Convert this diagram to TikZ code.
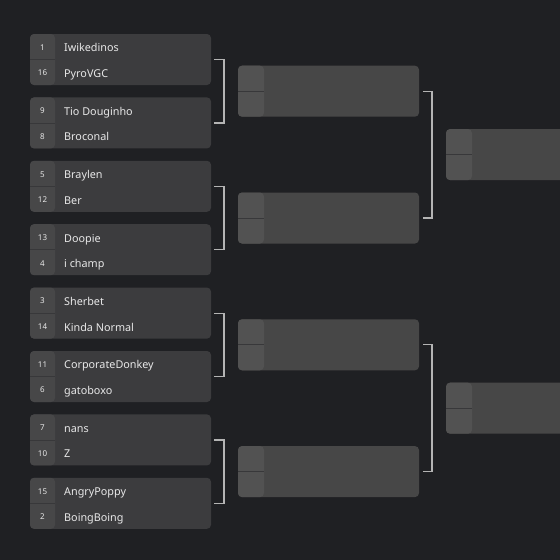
\documentclass[tikz,border=0pt]{standalone}
\usepackage{fontspec}
\setmainfont{Noto Sans}
\definecolor{bg}{HTML}{1F2023}
\definecolor{boxa}{HTML}{3C3C3E}
\definecolor{seeda}{HTML}{474748}
\definecolor{boxb}{HTML}{474747}
\definecolor{seedb}{HTML}{525252}
\definecolor{divline}{HTML}{38383A}
\definecolor{brk}{HTML}{B4B4B4}
\definecolor{txt}{HTML}{E8E8E8}
\tikzset{
  match/.style={rectangle, rounded corners=4pt, inner sep=0pt, outer sep=0pt,
    minimum height=51pt, minimum width=181pt, draw=none},
  r1/.style={match, fill=boxa, path picture={
      \fill[seeda] (path picture bounding box.north west) rectangle ([xshift=25pt]path picture bounding box.south west);
      \draw[divline, line width=0.8pt] (path picture bounding box.west) -- ([xshift=25pt]path picture bounding box.west);}},
  r2/.style={match, fill=boxb, path picture={
      \fill[seedb] (path picture bounding box.north west) rectangle ([xshift=26pt]path picture bounding box.south west);
      \draw[divline, line width=0.8pt] (path picture bounding box.west) -- ([xshift=26pt]path picture bounding box.west);}},
  seedtxt/.style={text=txt, font=\bfseries\fontsize{8}{9}\selectfont, inner sep=0pt},
  nametxt/.style={text=txt, font=\fontsize{10.8}{12}\selectfont, anchor=mid west, inner sep=0pt},
  bracket/.style={draw=brk, line width=1.2pt},
}
\begin{document}
\begin{tikzpicture}[x=1pt, y=-1pt]
\fill[bg] (0,0) rectangle (560,560);
\useasboundingbox (0,0) rectangle (560,560);
\clip (0,0) rectangle (560,560);
% round 1
\foreach \i/\sa/\na/\sb/\nb in {
  0/1/Iwikedinos/16/PyroVGC,
  1/9/Tio Douginho/8/Broconal,
  2/5/Braylen/12/Ber,
  3/13/Doopie/4/i champ,
  4/3/Sherbet/14/Kinda Normal,
  5/11/CorporateDonkey/6/gatoboxo,
  6/7/nans/10/Z,
  7/15/AngryPoppy/2/BoingBoing}{
  \pgfmathsetmacro\t{34+63.4*\i}
  \node[r1] (a\i) at (120.5, \t+25.5) {};
  \node[seedtxt] (sa\i) at (42.5, \t+13.5) {\sa};
  \node[seedtxt] (sb\i) at (42.5, \t+39) {\sb};
  \node[nametxt] (na\i) at (64, \t+15.3) {\na};
  \node[nametxt] (nb\i) at (64, \t+40.8) {\nb};
}
% round 2
\foreach \j in {0,1,2,3}{
  \pgfmathsetmacro\c{91.2+126.8*\j}
  \node[r2] (b\j) at (328.5, \c) {};
}
% round 3
\node[r2] (c0) at (536.5, 154.6) {};
\node[r2] (c1) at (536.5, 408.2) {};
% brackets round 1
\foreach \j in {0,1,2,3}{
  \pgfmathtruncatemacro\p{2*\j}
  \pgfmathtruncatemacro\q{2*\j+1}
  \draw[bracket] ([xshift=3pt]a\p.east) -- ([xshift=13pt]a\p.east) -- ([xshift=13pt]a\q.east) -- ([xshift=3pt]a\q.east);
}
% brackets round 2
\draw[bracket] ([xshift=4pt]b0.east) -- ([xshift=13pt]b0.east) -- ([xshift=13pt]b1.east) -- ([xshift=4pt]b1.east);
\draw[bracket] ([xshift=4pt]b2.east) -- ([xshift=13pt]b2.east) -- ([xshift=13pt]b3.east) -- ([xshift=4pt]b3.east);
\end{tikzpicture}
\end{document}
